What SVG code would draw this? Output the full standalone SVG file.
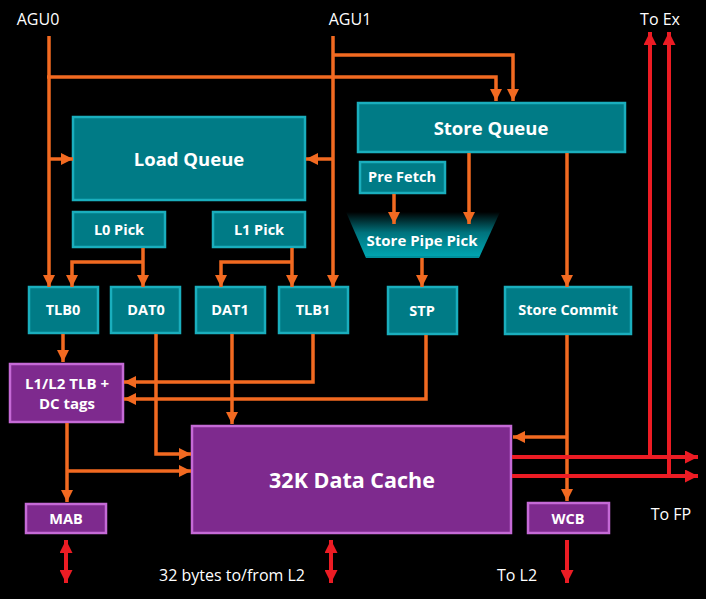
<svg xmlns="http://www.w3.org/2000/svg" width="706" height="599" viewBox="0 0 706 599">
<defs>
<style>
.t{fill:#007b86;stroke:#1aaebd;stroke-width:2.5}
.p{fill:#7e2a8e;stroke:#c56ad6;stroke-width:2.5}
.lb{font-family:"Open Sans","Noto Sans",sans-serif;font-weight:bold;fill:#fff;text-anchor:middle}
.rg{font-family:"Open Sans","Noto Sans",sans-serif;fill:#fff;font-size:16px}
.o{fill:none;stroke:#f26a21;stroke-width:3.5;stroke-linejoin:miter}
.oa{marker-end:url(#ao)}
.r{fill:none;stroke:#ec1c24;stroke-width:4}
.ra{marker-end:url(#ar)}
.rd{marker-start:url(#ar);marker-end:url(#ar)}
</style>
<marker id="ao" viewBox="0 0 12 12" markerWidth="12" markerHeight="12" refX="12" refY="6" orient="auto-start-reverse" markerUnits="userSpaceOnUse"><path d="M0,0 L12,6 L0,12 z" fill="#f26a21"/></marker>
<marker id="ar" viewBox="0 0 13 13" markerWidth="13" markerHeight="13" refX="13" refY="6.5" orient="auto-start-reverse" markerUnits="userSpaceOnUse"><path d="M0,0 L13,6.5 L0,13 z" fill="#ec1c24"/></marker>
<linearGradient id="gp" x1="0" y1="0" x2="0" y2="1">
<stop offset="0" stop-color="#000"/>
<stop offset="0.45" stop-color="#00737d"/>
<stop offset="1" stop-color="#00a8b4"/>
</linearGradient>
</defs>
<rect width="706" height="599" fill="#000"/>

<g id="labels">
<text class="rg" x="38" y="25" text-anchor="middle">AGU0</text>
<text class="rg" x="350" y="25" text-anchor="middle">AGU1</text>
<text class="rg" x="660" y="25" text-anchor="middle">To Ex</text>
<text class="rg" x="671" y="520" text-anchor="middle">To FP</text>
<text class="rg" x="232" y="581" text-anchor="middle">32 bytes to/from L2</text>
<text class="rg" x="517" y="581" text-anchor="middle">To L2</text>
</g>

<g id="load-queue"><rect class="t" x="73" y="117" width="232" height="83"/><text class="lb" x="189" y="166" font-size="18.5">Load Queue</text></g>
<g id="store-queue"><rect class="t" x="358" y="103" width="267" height="49"/><text class="lb" x="491" y="135" font-size="18.5">Store Queue</text></g>
<g id="pre-fetch"><rect class="t" x="360" y="162" width="85" height="31"/><text class="lb" x="402" y="182" font-size="14.5">Pre Fetch</text></g>
<g id="store-pipe-pick"><polygon points="346,212 500,212 479,258 366,258" fill="url(#gp)"/><line x1="366" y1="257" x2="479" y2="257" stroke="#00909c" stroke-width="2"/><text class="lb" x="422" y="246" font-size="15">Store Pipe Pick</text></g>
<g id="l0-pick"><rect class="t" x="73" y="212" width="92" height="35"/><text class="lb" x="119" y="235" font-size="14.5">L0 Pick</text></g>
<g id="l1-pick"><rect class="t" x="213" y="212" width="92" height="35"/><text class="lb" x="259" y="235" font-size="14.5">L1 Pick</text></g>
<g id="tlb0"><rect class="t" x="29" y="287" width="69" height="46"/><text class="lb" x="63" y="315" font-size="14.5">TLB0</text></g>
<g id="dat0"><rect class="t" x="111" y="287" width="69" height="46"/><text class="lb" x="146" y="315" font-size="14.5">DAT0</text></g>
<g id="dat1"><rect class="t" x="196" y="287" width="69" height="46"/><text class="lb" x="230" y="315" font-size="14.5">DAT1</text></g>
<g id="tlb1"><rect class="t" x="279" y="287" width="69" height="46"/><text class="lb" x="313" y="315" font-size="14.5">TLB1</text></g>
<g id="stp"><rect class="t" x="388" y="287" width="69" height="47"/><text class="lb" x="422" y="316" font-size="14.5">STP</text></g>
<g id="store-commit"><rect class="t" x="505" y="287" width="126" height="47"/><text class="lb" x="568" y="315" font-size="14.5">Store Commit</text></g>
<g id="l1l2-tlb"><rect class="p" x="10" y="364" width="113" height="58"/><text class="lb" x="67" y="389" font-size="15">L1/L2 TLB +</text><text class="lb" x="67" y="409" font-size="15">DC tags</text></g>
<g id="data-cache"><rect class="p" x="192" y="426" width="319" height="107"/><text class="lb" x="352" y="488" font-size="21.5">32K Data Cache</text></g>
<g id="mab"><rect class="p" x="26" y="504" width="80" height="29"/><text class="lb" x="66" y="524" font-size="14.5">MAB</text></g>
<g id="wcb"><rect class="p" x="528" y="503" width="81" height="30"/><text class="lb" x="568" y="524" font-size="14.5">WCB</text></g>

<g id="connectors">
<path class="o oa" d="M49,36 V287"/>
<path class="o oa" d="M49,159 H73"/>
<path class="o oa" d="M47,77 H496 V101"/>
<path class="o oa" d="M333,36 V287"/>
<path class="o oa" d="M333,159 H306"/>
<path class="o oa" d="M333,55 H513 V101"/>
<path class="o oa" d="M469,153 V224"/>
<path class="o oa" d="M394,194 V224"/>
<path class="o oa" d="M567,153 V287"/>
<path class="o oa" d="M422,258 V287"/>
<path class="o oa" d="M143,248 V287"/>
<path class="o oa" d="M143,262 H72 V287"/>
<path class="o oa" d="M292,248 V287"/>
<path class="o oa" d="M292,262 H221 V287"/>
<path class="o oa" d="M63,334 V362"/>
<path class="o oa" d="M313,334 V382 H124"/>
<path class="o oa" d="M426,335 V399 H124"/>
<path class="o oa" d="M156,334 V454 H191"/>
<path class="o oa" d="M232,334 V424"/>
<path class="o oa" d="M67,423 V502"/>
<path class="o oa" d="M67,471 H191"/>
<path class="o oa" d="M567,335 V501"/>
<path class="o oa" d="M567,437 H513"/>
<path class="r ra" d="M512,457 H698"/>
<path class="r ra" d="M512,476 H698"/>
<path class="r ra" d="M650,459 V32"/>
<path class="r ra" d="M669,478 V32"/>
<path class="r rd" d="M66,540 V583"/>
<path class="r rd" d="M331,540 V583"/>
<path class="r ra" d="M567,540 V583"/>
</g>
</svg>
